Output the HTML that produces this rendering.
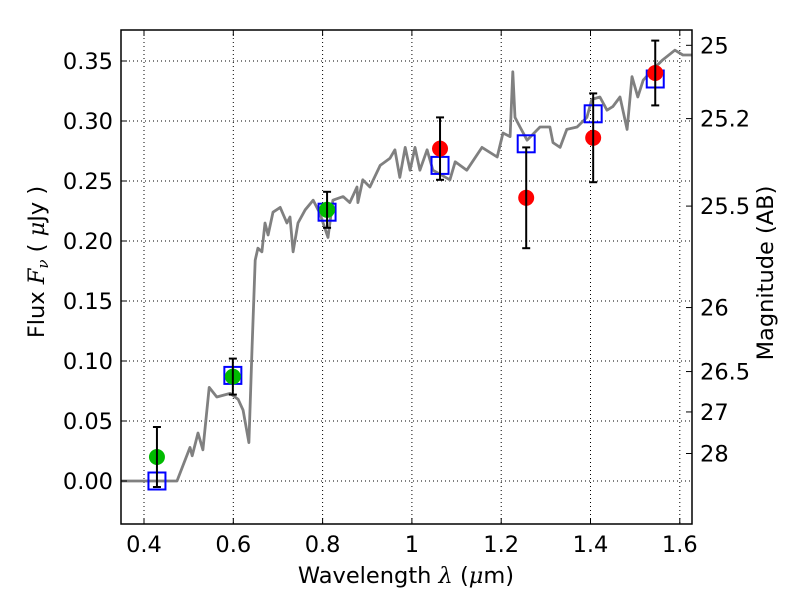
<!DOCTYPE html>
<html><head><meta charset="utf-8"><style>
body{margin:0;background:#fff;width:800px;height:600px;overflow:hidden}
text{font-family:"DejaVu Sans","Liberation Sans",sans-serif}
</style></head><body>
<svg id="chart" width="800" height="600" xmlns="http://www.w3.org/2000/svg"></svg>
<script>
const specLam=[0.348,0.474,0.503,0.508,0.521,0.532,0.546,0.563,0.593,0.611,0.622,0.635,0.642,0.649,0.655,0.664,0.671,0.678,0.689,0.705,0.720,0.727,0.734,0.745,0.761,0.779,0.794,0.812,0.823,0.846,0.861,0.877,0.879,0.890,0.906,0.929,0.951,0.962,0.973,0.985,0.996,1.007,1.018,1.034,1.047,1.085,1.097,1.123,1.157,1.191,1.204,1.220,1.226,1.231,1.242,1.258,1.287,1.309,1.316,1.332,1.347,1.370,1.392,1.403,1.421,1.437,1.450,1.466,1.482,1.493,1.506,1.518,1.540,1.562,1.589,1.607,1.627];
const specFlux=[0,0,0.028,0.021,0.040,0.026,0.078,0.070,0.073,0.068,0.059,0.032,0.112,0.184,0.194,0.191,0.215,0.205,0.224,0.228,0.215,0.220,0.191,0.215,0.226,0.234,0.223,0.203,0.234,0.237,0.232,0.245,0.232,0.251,0.245,0.263,0.269,0.276,0.253,0.278,0.259,0.278,0.259,0.276,0.259,0.251,0.266,0.259,0.278,0.270,0.290,0.287,0.341,0.303,0.295,0.284,0.295,0.295,0.282,0.278,0.293,0.295,0.303,0.318,0.320,0.309,0.312,0.320,0.293,0.337,0.320,0.334,0.343,0.351,0.359,0.355,0.355];
const modelLam=[0.429,0.599,0.810,1.063,1.256,1.406,1.545];
const modelFlux=[0.0,0.088,0.224,0.263,0.281,0.306,0.335];
const greenLam=[0.429,0.599,0.810];
const greenFlux=[0.020,0.087,0.226];
const greenErr=[0.025,0.015,0.015];
const redLam=[1.063,1.256,1.406,1.545];
const redFlux=[0.277,0.236,0.286,0.340];
const redErr=[0.026,0.042,0.037,0.027];
const xTicks=[0.4,0.6,0.8,1.0,1.2,1.4,1.6];
const xTickLabels=["0.4","0.6","0.8","1","1.2","1.4","1.6"];
const yTicks=[0,0.05,0.10,0.15,0.20,0.25,0.30,0.35];
const yTickLabels=["0.00","0.05","0.10","0.15","0.20","0.25","0.30","0.35"];
const magTicks=[25,25.2,25.5,26,26.5,27,28];
const magLabels=["25","25.2","25.5","26","26.5","27","28"];

const L=121,R=692,T=30,B=524;
const X=v=>144+(v-0.4)*446.5;
const Y=v=>481-v*1200;
const magY=m=>Y(Math.pow(10,(23.9-m)/2.5));
const svg=document.getElementById('chart');
const NS='http://www.w3.org/2000/svg';
function mk(tag,attrs,parent){const e=document.createElementNS(NS,tag);for(const k in attrs)e.setAttribute(k,attrs[k]);(parent||svg).appendChild(e);return e;}

const grid=mk('g',{});


xTicks.forEach(v=>{mk('line',{x1:X(v),x2:X(v),y1:T,y2:B,stroke:'#000','stroke-width':1,'stroke-dasharray':'1,3'},grid);});
yTicks.forEach(v=>{mk('line',{x1:L,x2:R,y1:Y(v),y2:Y(v),stroke:'#000','stroke-width':1,'stroke-dasharray':'1,3'},grid);});

const pts=specLam.map((l,i)=>X(l).toFixed(1)+','+Y(specFlux[i]).toFixed(1)).join(' ');
const sp=mk('polyline',{points:pts,fill:'none',stroke:'#808080','stroke-width':2.8,'stroke-linejoin':'round'});



modelLam.forEach((l,i)=>{
  const r=mk('rect',{x:X(l)-8.5,y:Y(modelFlux[i])-8.5,width:17,height:17,fill:'none',stroke:'#0000ff','stroke-width':2});
  
  
});
function errPts(lams,fl,er,col,name){
  lams.forEach((l,i)=>{
    const g=mk('g',{});
    
    
    const x=X(l),y1=Y(fl[i]-er[i]),y2=Y(fl[i]+er[i]);
    mk('circle',{cx:x,cy:Y(fl[i]),r:8,fill:col},g);
    mk('line',{x1:x,x2:x,y1:y1,y2:y2,stroke:'#000','stroke-width':2},g);
    mk('line',{x1:x-4,x2:x+4,y1:y1,y2:y1,stroke:'#000','stroke-width':2},g);
    mk('line',{x1:x-4,x2:x+4,y1:y2,y2:y2,stroke:'#000','stroke-width':2},g);
  });
}
errPts(greenLam,greenFlux,greenErr,'#00bb00','observed-point-green');
errPts(redLam,redFlux,redErr,'#ff0000','observed-point-red');

const fr=mk('rect',{x:L,y:T,width:R-L,height:B-T,fill:'none',stroke:'#000','stroke-width':1.5});



xTicks.forEach((v,i)=>{
  mk('line',{x1:X(v),x2:X(v),y1:B,y2:B-6,stroke:'#000'});
  mk('line',{x1:X(v),x2:X(v),y1:T,y2:T+6,stroke:'#000'});
  const t=mk('text',{x:X(v),y:B+28,'font-size':22.5,'text-anchor':'middle'});
  t.textContent=xTickLabels[i];
  
  
});
yTicks.forEach((v,i)=>{
  mk('line',{x1:L,x2:L+6,y1:Y(v),y2:Y(v),stroke:'#000'});
  const t=mk('text',{x:L-8,y:Y(v)+8,'font-size':22.5,'text-anchor':'end'});
  t.textContent=yTickLabels[i];
  
  
});
magTicks.forEach((m,i)=>{
  const y=magY(m);
  mk('line',{x1:R,x2:R-6,y1:y,y2:y,stroke:'#000'});
  const t=mk('text',{x:R+8,y:y+8,'font-size':22.5});
  t.textContent=magLabels[i];
  
  
});
const xl=mk('text',{x:406,y:583,'font-size':22.5,'text-anchor':'middle'});
xl.innerHTML='Wavelength  <tspan font-family="DejaVu Serif" font-style="italic">λ</tspan> (<tspan font-family="DejaVu Serif" font-style="italic">μ</tspan>m)';


const yl=mk('text',{x:0,y:0,'font-size':22.5,'text-anchor':'middle',transform:'translate(44,262) rotate(-90)'});
yl.innerHTML='Flux  <tspan font-family="DejaVu Serif" font-style="italic">F</tspan><tspan font-family="DejaVu Serif" font-style="italic" font-size="15" dy="4">ν</tspan><tspan dy="-4">  (  </tspan><tspan font-family="DejaVu Serif" font-style="italic">μ</tspan>Jy )';


const rl=mk('text',{x:0,y:0,'font-size':22.5,'text-anchor':'middle',transform:'translate(773,273) rotate(-90)'});
rl.textContent='Magnitude (AB)';


</script>
</body></html>
